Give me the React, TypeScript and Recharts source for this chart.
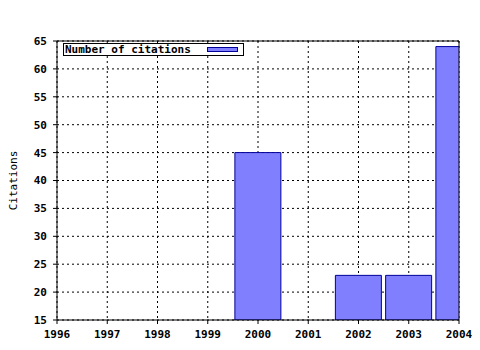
import React from 'react';
import { BarChart, Bar, XAxis, YAxis, CartesianGrid, Legend } from 'recharts';

// chart values
const years = [2000, 2002, 2003, 2004];
const citations = [45, 23, 23, 64];
const yearTicks = [1996, 1997, 1998, 1999, 2000, 2001, 2002, 2003, 2004];
const citationTicks = [15, 20, 25, 30, 35, 40, 45, 50, 55, 60, 65];

const data = years.map((year, i) => ({ year, citations: citations[i] }));

// minor ticks: 4 between each pair of years
const minorTicks: number[] = [];
yearTicks.slice(0, -1).forEach((y) => {
  for (let k = 1; k < 5; k++) minorTicks.push(y + k / 5);
});

const FONT = '"DejaVu Sans Mono", "Liberation Mono", monospace';
const tickStyle = { fill: '#000', fontSize: 11, fontFamily: FONT, fontWeight: 'bold' as const };

const LegendBox: React.FC<any> = () => (
  <div
    style={{
      display: 'flex',
      alignItems: 'center',
      border: '1px solid #000',
      background: '#fff',
      width: 178,
      height: 11,
      fontFamily: FONT,
      fontSize: 11,
      fontWeight: 'bold',
      lineHeight: '11px',
      color: '#000',
      paddingLeft: 1,
    }}
  >
    <span>Number of citations</span>
    <span
      style={{
        display: 'inline-block',
        width: 29,
        height: 3,
        marginLeft: 16,
        background: '#8080ff',
        border: '1px solid #000099',
      }}
    />
  </div>
);

export default function App() {
  return (
    <div style={{ position: 'absolute', left: 0, top: 0, background: '#fff' }}>
      <BarChart
        width={480}
        height={350}
        data={data}
        margin={{ top: 40, right: 20, bottom: 0, left: 0 }}
        style={{ fontFamily: FONT }}
      >
        <CartesianGrid
          xAxisId="main"
          yAxisId="main"
          stroke="#000"
          strokeDasharray="2 3"
        />
        <XAxis
          xAxisId="main"
          dataKey="year"
          type="number"
          domain={[1996, 2004]}
          ticks={yearTicks}
          allowDataOverflow
          height={30}
          tick={tickStyle}
          tickSize={4}
          tickMargin={6}
          axisLine={{ stroke: '#000' }}
          tickLine={{ stroke: '#000' }}
          interval={0}
        />
        <XAxis
          xAxisId="minorBottom"
          type="number"
          domain={[1996, 2004]}
          ticks={minorTicks}
          allowDataOverflow
          mirror
          tick={false}
          tickSize={3}
          axisLine={false}
          tickLine={{ stroke: '#000' }}
          interval={0}
        />
        <XAxis
          xAxisId="top"
          orientation="top"
          type="number"
          domain={[1996, 2004]}
          ticks={yearTicks}
          allowDataOverflow
          height={1}
          tick={false}
          tickSize={4}
          axisLine={{ stroke: '#000' }}
          tickLine={{ stroke: '#000' }}
          interval={0}
        />
        <XAxis
          xAxisId="minorTop"
          orientation="top"
          type="number"
          domain={[1996, 2004]}
          ticks={minorTicks}
          allowDataOverflow
          mirror
          tick={false}
          tickSize={3}
          axisLine={false}
          tickLine={{ stroke: '#000' }}
          interval={0}
        />
        <YAxis
          yAxisId="main"
          type="number"
          domain={[15, 65]}
          ticks={citationTicks}
          allowDataOverflow
          width={57}
          tick={tickStyle}
          tickSize={4}
          tickMargin={6}
          axisLine={{ stroke: '#000' }}
          tickLine={{ stroke: '#000' }}
          interval={0}
          label={{
            value: 'Citations',
            angle: -90,
            position: 'insideLeft',
            offset: 13,
            style: { fill: '#000', fontSize: 11, fontFamily: FONT, textAnchor: 'middle' },
          }}
        />
        <YAxis
          yAxisId="right"
          orientation="right"
          type="number"
          domain={[15, 65]}
          allowDataOverflow
          width={1}
          tick={false}
          tickLine={false}
          axisLine={{ stroke: '#000' }}
        />
        <Legend
          layout="horizontal"
          verticalAlign="middle"
          align="center"
          wrapperStyle={{ left: 63, top: 43, width: 'auto', height: 'auto' }}
          content={<LegendBox />}
        />
        <Bar
          xAxisId="main"
          yAxisId="main"
          dataKey="citations"
          name="Number of citations"
          barSize={46}
          fill="#8080ff"
          stroke="#000099"
          strokeWidth={1}
          isAnimationActive={false}
        />
      </BarChart>
    </div>
  );
}
